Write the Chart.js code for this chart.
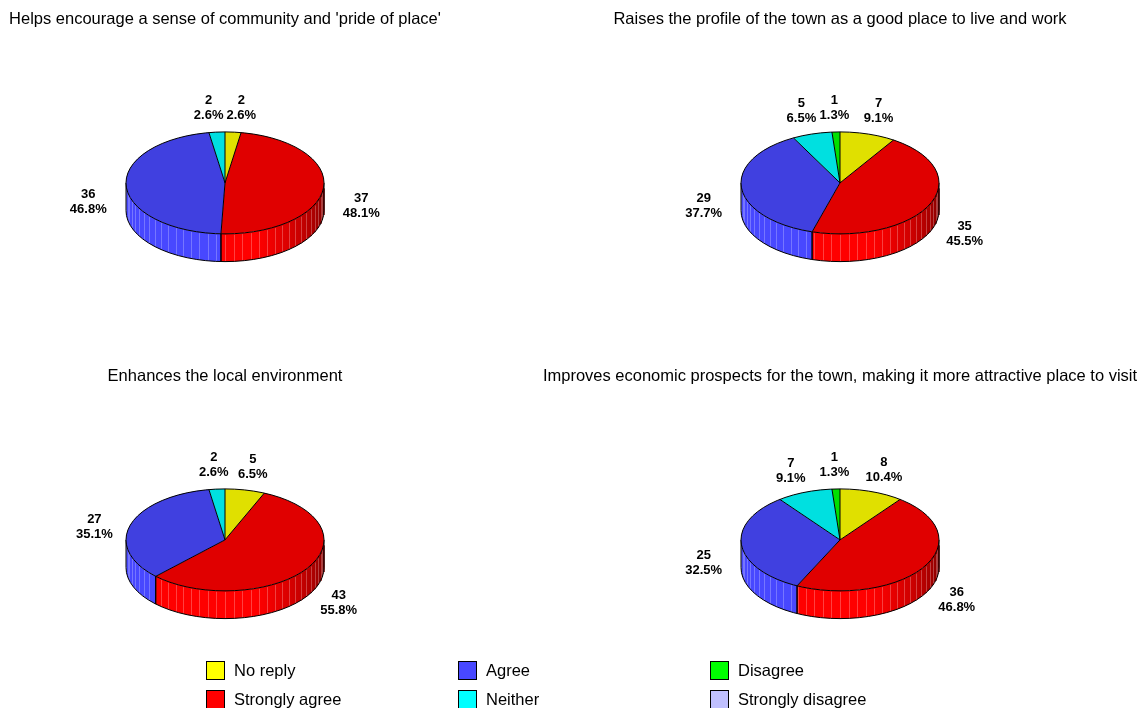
<!DOCTYPE html>
<html>
<head>
<meta charset="utf-8">
<script src="https://cdn.jsdelivr.net/npm/chart.js@4"></script>
<style>
  body { margin: 0; background: #fff; }
  #wrap { position: relative; width: 1141px; height: 708px; overflow: hidden; font-family: Arial, "Liberation Sans", sans-serif; }
  #wrap canvas { position: absolute; }
  .item { position: absolute; font-size: 16.5px; color: #000; height: 20px; }
  .item .box { position: absolute; left: 0; top: 0; width: 17px; height: 17px; border: 1px solid #000; }
  .item .txt { position: absolute; left: 28px; top: 0; line-height: 19px; white-space: nowrap; }
</style>
</head>
<body>
<div id="wrap">
  <canvas id="pie1" width="450" height="351" style="left:0;top:0"></canvas>
  <canvas id="pie2" width="600" height="351" style="left:540px;top:0"></canvas>
  <canvas id="pie3" width="450" height="351" style="left:0;top:357px"></canvas>
  <canvas id="pie4" width="600" height="351" style="left:540px;top:357px"></canvas>
  <div id="legend"></div>
</div>
<script>
// Kategori jawaban dan jumlah responden per pertanyaan
const categories = ["No reply", "Strongly agree", "Agree", "Neither", "Disagree", "Strongly disagree"];
const questions = [
  "Helps encourage a sense of community and 'pride of place'",
  "Raises the profile of the town as a good place to live and work",
  "Enhances the local environment",
  "Improves economic prospects for the town, making it more attractive place to visit",
];
const prideOfPlace = [2, 37, 36, 2, 0, 0];
const townProfile = [7, 35, 29, 5, 1, 0];
const localEnvironment = [5, 43, 27, 2, 0, 0];
const economicProspects = [8, 36, 25, 7, 1, 0];

// Warna: permukaan atas, dinding samping, dan kotak legenda
const topColors = ["rgb(224,224,0)", "rgb(224,0,0)", "rgb(64,64,224)", "rgb(0,224,224)", "rgb(0,224,0)", "rgb(168,168,224)"];
const sideColors = [[255, 255, 0], [255, 0, 0], [72, 72, 255], [0, 255, 255], [0, 255, 0], [192, 192, 255]];
const legendColors = ["#ffff00", "#ff0000", "#4848ff", "#00ffff", "#00ff00", "#c0c0ff"];

const FONT = "Arial, 'Liberation Sans', sans-serif";
const TILT = 0.515;   // rasio tinggi/lebar elips
const DEPTH = 0.28;   // tebal pie relatif terhadap radius
const STEP = Math.PI / 36;

function shade(rgb, t) {
  const f = Math.min(1, 0.7 + 0.45 * Math.cos(t - 2.1));
  return [rgb[0] * f, rgb[1] * f, rgb[2] * f].map(Math.round);
}

// Plugin untuk menggambar pie 3D
const pie3d = {
  id: "pie3d",
  beforeDatasetsDraw(chart) {
    const ctx = chart.ctx;
    const arcs = chart.getDatasetMeta(0).data;
    const { x: cx, y: cy, outerRadius: r } = arcs[0];
    const ry = r * TILT;
    const depth = r * DEPTH;

    // dinding depan, per potongan 5 derajat dengan tepi terang
    arcs.forEach((arc, i) => {
      const a = Math.max(arc.startAngle, 0);
      const b = Math.min(arc.endAngle, Math.PI);
      if (b <= a) return;
      const grad = ctx.createLinearGradient(cx + r, 0, cx - r, 0);
      for (let t = 0; t <= Math.PI + 1e-6; t += STEP / 2) {
        const c = shade(sideColors[i], t);
        grad.addColorStop(Math.min(1, (1 - Math.cos(t)) / 2), `rgb(${c})`);
      }
      ctx.beginPath();
      ctx.ellipse(cx, cy, r, ry, 0, a, b);
      ctx.ellipse(cx, cy + depth, r, ry, 0, b, a, true);
      ctx.closePath();
      ctx.fillStyle = grad;
      ctx.fill();

      ctx.lineWidth = 1;
      for (let t = Math.ceil(a / STEP) * STEP; t < b - 1e-6; t += STEP) {
        if (t <= a + 1e-6) continue;
        const c = shade(sideColors[i], t).map((v) => Math.round(v + (255 - v) * 0.25));
        const x = Math.round(cx + r * Math.cos(t)) + 0.5;
        const y = cy + ry * Math.sin(t);
        ctx.strokeStyle = `rgb(${c})`;
        ctx.beginPath();
        ctx.moveTo(x, y + 1);
        ctx.lineTo(x, y + depth);
        ctx.stroke();
      }
    });

    // garis tepi dinding
    ctx.strokeStyle = "#000";
    ctx.lineWidth = 1;
    ctx.beginPath();
    ctx.ellipse(cx, cy + depth, r, ry, 0, 0, Math.PI);
    ctx.stroke();
    ctx.beginPath();
    ctx.moveTo(cx - r, cy);
    ctx.lineTo(cx - r, cy + depth);
    ctx.moveTo(cx + r, cy);
    ctx.lineTo(cx + r, cy + depth);
    arcs.forEach((arc) => {
      if (arc.endAngle - arc.startAngle <= 0) return;
      [arc.startAngle, arc.endAngle].forEach((t) => {
        if (t > 0 && t < Math.PI) {
          const x = cx + r * Math.cos(t);
          const y = cy + ry * Math.sin(t);
          ctx.moveTo(x, y);
          ctx.lineTo(x, y + depth);
        }
      });
    });
    ctx.stroke();

    // permukaan atas digambar Chart.js, dipipihkan jadi elips
    ctx.save();
    ctx.translate(cx, cy);
    ctx.scale(1, TILT);
    ctx.translate(-cx, -cy);
  },
  afterDatasetsDraw(chart) {
    const ctx = chart.ctx;
    ctx.restore();
    const arcs = chart.getDatasetMeta(0).data;
    const values = chart.data.datasets[0].data;
    const total = values.reduce((s, v) => s + v, 0);
    const { x: cx, y: cy, outerRadius: r } = arcs[0];
    const ry = r * TILT;
    const depth = r * DEPTH;

    // garis tepi permukaan atas
    ctx.strokeStyle = "#000";
    ctx.lineWidth = 1;
    ctx.beginPath();
    ctx.ellipse(cx, cy, r, ry, 0, 0, Math.PI * 2);
    arcs.forEach((arc) => {
      if (arc.endAngle - arc.startAngle <= 0) return;
      ctx.moveTo(cx, cy);
      ctx.lineTo(cx + r * Math.cos(arc.startAngle), cy + ry * Math.sin(arc.startAngle));
    });
    ctx.stroke();

    // label nilai dan persen
    ctx.font = "bold 13px " + FONT;
    const labels = [];
    arcs.forEach((arc, i) => {
      if (!values[i]) return;
      const mid = (arc.startAngle + arc.endAngle) / 2;
      const lines = [String(values[i]), (values[i] / total * 100).toFixed(1) + "%"];
      const w = Math.max(...lines.map((s) => ctx.measureText(s).width));
      labels.push({
        lines, w, h: 30,
        x: cx + (r + 38) * Math.cos(mid),
        y: cy + depth / 2 + (ry + 38) * Math.sin(mid),
      });
    });
    for (let it = 0; it < 30; it++) {
      for (let i = 0; i < labels.length; i++) {
        for (let j = i + 1; j < labels.length; j++) {
          const A = labels[i], B = labels[j];
          const dx = B.x - A.x;
          const need = (A.w + B.w) / 2 + 3;
          if (Math.abs(dx) < need && Math.abs(B.y - A.y) < (A.h + B.h) / 2) {
            const s = dx >= 0 ? 1 : -1;
            const push = (need - Math.abs(dx)) / 2;
            A.x -= s * push;
            B.x += s * push;
          }
        }
      }
    }
    ctx.fillStyle = "#000";
    ctx.textAlign = "center";
    ctx.textBaseline = "middle";
    labels.forEach((lb) => {
      ctx.fillText(lb.lines[0], lb.x, lb.y - 7.5);
      ctx.fillText(lb.lines[1], lb.x, lb.y + 7.5);
    });
  },
};

function makePie(id, title, data) {
  new Chart(document.getElementById(id), {
    type: "pie",
    data: {
      labels: categories,
      datasets: [{ data, backgroundColor: topColors, borderWidth: 0, radius: 99, clip: false }],
    },
    options: {
      responsive: false,
      animation: false,
      events: [],
      layout: { padding: { bottom: 23 } },
      plugins: {
        legend: { display: false },
        tooltip: { enabled: false },
        title: {
          display: true,
          text: title,
          color: "#000",
          font: { family: FONT, size: 16.5, weight: "normal" },
          padding: { top: 10, bottom: 8 },
        },
      },
    },
    plugins: [pie3d],
  });
}

makePie("pie1", questions[0], prideOfPlace);
makePie("pie2", questions[1], townProfile);
makePie("pie3", questions[2], localEnvironment);
makePie("pie4", questions[3], economicProspects);

// Legenda bersama (urut per kolom)
const legend = document.getElementById("legend");
categories.forEach((name, i) => {
  const col = Math.floor(i / 2);
  const row = i % 2;
  const item = document.createElement("div");
  item.className = "item";
  item.style.left = 206 + col * 252 + "px";
  item.style.top = 661 + row * 29 + "px";
  item.innerHTML = `<span class="box" style="background:${legendColors[i]}"></span><span class="txt">${name}</span>`;
  legend.appendChild(item);
});
</script>
</body>
</html>
